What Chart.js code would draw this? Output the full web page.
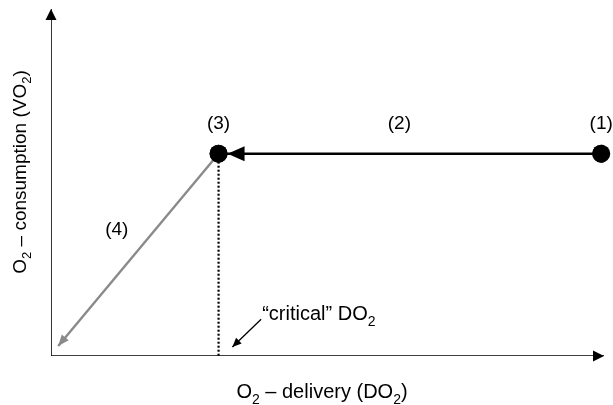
<!DOCTYPE html>
<html>
<head>
<meta charset="utf-8">
<script src="https://cdn.jsdelivr.net/npm/chart.js@4/dist/chart.umd.min.js"></script>
<style>
  html, body { margin: 0; padding: 0; background: #ffffff; }
  canvas { display: block; }
</style>
</head>
<body>
<canvas id="c" width="613" height="405"></canvas>
<script>
// ---- data (axis units 0..100, schematic) ----
const stateLabels = ["(1)", "(2)", "(3)", "(4)"];
const stateX = [99.5, 30.3];          // (1) and (3) DO2 positions
const stateY = [58.3, 58.3];          // VO2 level of (1) and (3)
const labelX = [99.5, 63.0, 30.3, 11.9];   // label anchors for (1)..(4)
const labelY = [67.0, 67.0, 67.0, 36.5];
const collapseEnd = [1.3, 2.9];       // end of (4) arrow (x, y)
const criticalFrom = [38.0, 10.6];    // "critical" DO2 pointer start
const criticalTo = [32.8, 2.6];       // pointer end
// text runs: [text, isSubscript]
const criticalText = [["\u201Ccritical\u201D DO", false], ["2", true]];
const xTitle = [["O", false], ["2", true], [" \u2013 delivery (DO", false], ["2", true], [")", false]];
const yTitle = [["O", false], ["2", true], [" \u2013 consumption (VO", false], ["2", true], [")", false]];
const axisMax = 100;

const FONT = '"Liberation Sans", Arial, sans-serif';

function runsWidth(ctx, runs, size) {
  let w = 0;
  runs.forEach(([t, s]) => { ctx.font = (s ? Math.round(size * 0.7) : size) + 'px ' + FONT; w += ctx.measureText(t).width; });
  return w;
}
function drawRuns(ctx, runs, x, y, align, size) {
  const w = runsWidth(ctx, runs, size);
  let cx = align === 'center' ? x - w / 2 : x;
  ctx.textAlign = 'left';
  ctx.textBaseline = 'alphabetic';
  runs.forEach(([t, s]) => {
    ctx.font = (s ? Math.round(size * 0.7) : size) + 'px ' + FONT;
    ctx.fillText(t, cx, s ? y + size * 0.28 : y);
    cx += ctx.measureText(t).width;
  });
}

const arrowPlugin = {
  id: 'arrows',
  afterDatasetsDraw(chart) {
    const ctx = chart.ctx;
    chart.data.datasets.forEach((ds, i) => {
      if (!ds.arrow) return;
      const meta = chart.getDatasetMeta(i);
      const pts = meta.data;
      const a = pts[pts.length - 2], b = pts[pts.length - 1];
      const dx = b.x - a.x, dy = b.y - a.y;
      const L = Math.hypot(dx, dy);
      const ux = dx / L, uy = dy / L;
      const off = ds.arrow.offset || 0;
      const tx = b.x - ux * off, ty = b.y - uy * off;
      const bx = tx - ux * ds.arrow.len, by = ty - uy * ds.arrow.len;
      const h = ds.arrow.half;
      ctx.save();
      ctx.fillStyle = ds.borderColor;
      ctx.beginPath();
      ctx.moveTo(tx, ty);
      ctx.lineTo(bx - uy * h, by + ux * h);
      ctx.lineTo(bx + uy * h, by - ux * h);
      ctx.closePath();
      ctx.fill();
      ctx.restore();
    });
    // redraw state points on top
    const pm = chart.getDatasetMeta(0);
    ctx.save();
    ctx.fillStyle = '#000';
    pm.data.forEach(p => {
      ctx.beginPath();
      ctx.arc(p.x, p.y, 9, 0, Math.PI * 2);
      ctx.fill();
    });
    ctx.restore();
  },
  afterDraw(chart) {
    const ctx = chart.ctx;
    const xs = chart.scales.x, ys = chart.scales.y;
    ctx.save();
    ctx.fillStyle = '#000';
    ctx.font = '19px ' + FONT;
    ctx.textAlign = 'center';
    ctx.textBaseline = 'middle';
    stateLabels.forEach((t, i) => {
      ctx.fillText(t, xs.getPixelForValue(labelX[i]), ys.getPixelForValue(labelY[i]));
    });
    // critical label
    drawRuns(ctx, criticalText, xs.getPixelForValue(criticalFrom[0]) + 1, ys.getPixelForValue(criticalFrom[1]) + 1, 'left', 20);
    // axis titles
    drawRuns(ctx, xTitle, 322, 398, 'center', 20);
    ctx.translate(26, 172);
    ctx.rotate(-Math.PI / 2);
    drawRuns(ctx, yTitle, 0, 0, 'center', 19);
    ctx.restore();
  }
};

new Chart(document.getElementById('c'), {
  type: 'scatter',
  data: {
    datasets: [
      { // state points (1) and (3)
        data: stateX.map((x, i) => ({ x, y: stateY[i] })),
        pointRadius: 9, pointBackgroundColor: '#000', pointBorderWidth: 0,
        showLine: false
      },
      { // (2) decreasing DO2 at constant VO2
        data: [{ x: stateX[0], y: stateY[0] }, { x: stateX[1], y: stateY[1] }],
        showLine: true, borderColor: '#000', borderWidth: 2.6, pointRadius: 0,
        arrow: { len: 17, half: 7.5, offset: 9 }
      },
      { // (4) supply-dependent fall
        data: [{ x: stateX[1], y: stateY[1] }, { x: collapseEnd[0], y: collapseEnd[1] }],
        showLine: true, borderColor: '#8a8a8a', borderWidth: 2.4, pointRadius: 0,
        arrow: { len: 11, half: 4.5, offset: 0 }
      },
      { // critical DO2 dotted
        data: [{ x: stateX[1], y: stateY[1] }, { x: stateX[1], y: 0 }],
        showLine: true, borderColor: '#000', borderWidth: 2.2, borderDash: [2, 2],
        pointRadius: 0
      },
      { // pointer
        data: [{ x: criticalFrom[0], y: criticalFrom[1] }, { x: criticalTo[0], y: criticalTo[1] }],
        showLine: true, borderColor: '#000', borderWidth: 1.3, pointRadius: 0,
        arrow: { len: 9, half: 4, offset: 0 }
      },
      { // x axis
        data: [{ x: 0, y: 0 }, { x: axisMax, y: 0 }],
        showLine: true, borderColor: '#000', borderWidth: 1.6, pointRadius: 0,
        arrow: { len: 11, half: 5.5, offset: 0 }
      },
      { // y axis
        data: [{ x: 0, y: 0 }, { x: 0, y: axisMax }],
        showLine: true, borderColor: '#000', borderWidth: 1.6, pointRadius: 0,
        arrow: { len: 11, half: 5.5, offset: 0 }
      }
    ]
  },
  options: {
    responsive: false,
    animation: false,
    events: [],
    layout: { padding: { left: 51, right: 7, top: 8, bottom: 49 } },
    plugins: { legend: { display: false }, tooltip: { enabled: false } },
    scales: {
      x: { type: 'linear', min: 0, max: axisMax, display: false },
      y: { type: 'linear', min: 0, max: axisMax, display: false }
    },
    elements: { line: { tension: 0 } }
  },
  plugins: [arrowPlugin]
});
</script>
</body>
</html>
